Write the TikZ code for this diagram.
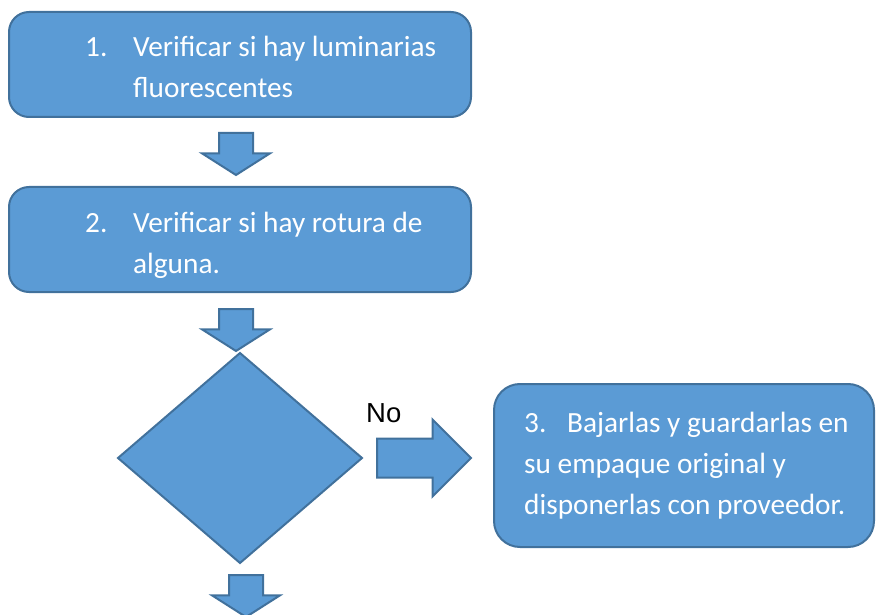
\documentclass[tikz,border=0pt]{standalone}
\usepackage{fontspec}
\setmainfont{Carlito}
\newfontfamily\labelfont{Liberation Sans}
\usetikzlibrary{positioning, shapes.geometric, shapes.arrows}
\definecolor{stepfill}{HTML}{5B9BD5}
\definecolor{stepline}{HTML}{41719C}

\begin{document}
\begin{tikzpicture}[
        block/.style={rectangle, draw=stepline, fill=stepfill, line width=2pt, rounded corners=20pt, outer sep=0pt, inner sep=0pt, minimum width=462pt, minimum height=105pt},
        decision/.style={diamond, draw=stepline, fill=stepfill, line width=2pt, outer sep=0pt, inner sep=0pt, minimum width=244pt, minimum height=210pt},
        downarrow/.style={single arrow, draw=stepline, fill=stepfill, line width=2pt, outer sep=0pt, inner xsep=0pt, inner ysep=16pt, rotate=-90, single arrow head extend=17pt, single arrow tip angle=115, minimum height=42pt},
        rightarrow/.style={single arrow, draw=stepline, fill=stepfill, line width=2pt, outer sep=0pt, inner xsep=0pt, inner ysep=18.5pt, single arrow head extend=19pt, single arrow tip angle=90, minimum height=94pt},
        steptext/.style={text=white, inner sep=0pt, align=left, font=\fontsize{29.3}{41}\selectfont},
        nolabel/.style={inner sep=0pt, font=\labelfont\fontsize{27.5}{30}\selectfont}
    ]
    \useasboundingbox (0,0) rectangle (876pt,-615pt);

    % Boxes
    \node[block] (check1) at (240pt,-64.5pt) {};
    \node[block, below=70pt of check1] (check2) {};
    \node[decision, below=61pt of check2] (broken) {};

    % Block arrows
    \node[downarrow, anchor=tail] (a1) at ([xshift=-4pt, yshift=-16pt]check1.south) {};
    \node[downarrow, anchor=tail] (a2) at ([xshift=-4pt, yshift=-17pt]check2.south) {};
    \node[rightarrow, anchor=tail] (a3) at ([xshift=15pt]broken.east) {};
    \node[downarrow, anchor=tail] (a4) at ([xshift=6pt, yshift=-12pt]broken.south) {};

    \node[block, rounded corners=26pt, minimum width=380pt, minimum height=163pt, anchor=west] (store) at ([xshift=23pt, yshift=-7.5pt]a3.tip) {};

    % Texts
    \node[steptext, anchor=base west] (t1) at ([xshift=76pt, yshift=-86pt]check1.north west) {\makebox[48pt][l]{1.}Verificar si hay luminarias\\\hspace*{48pt}fluorescentes};
    \node[steptext, anchor=base west] (t2) at ([xshift=76pt, yshift=-86pt]check2.north west) {\makebox[48pt][l]{2.}Verificar si hay rotura de\\\hspace*{48pt}alguna.};
    \node[steptext, anchor=base west] (t3) at ([xshift=30pt, yshift=-130pt]store.north west) {\makebox[43pt][l]{3.}Bajarlas y guardarlas en\\su empaque original y\\disponerlas con proveedor.};
    \node[nolabel, anchor=base west] (no) at ([xshift=-11pt, yshift=35.5pt]a3.tail) {No};

\end{tikzpicture}
\end{document}
